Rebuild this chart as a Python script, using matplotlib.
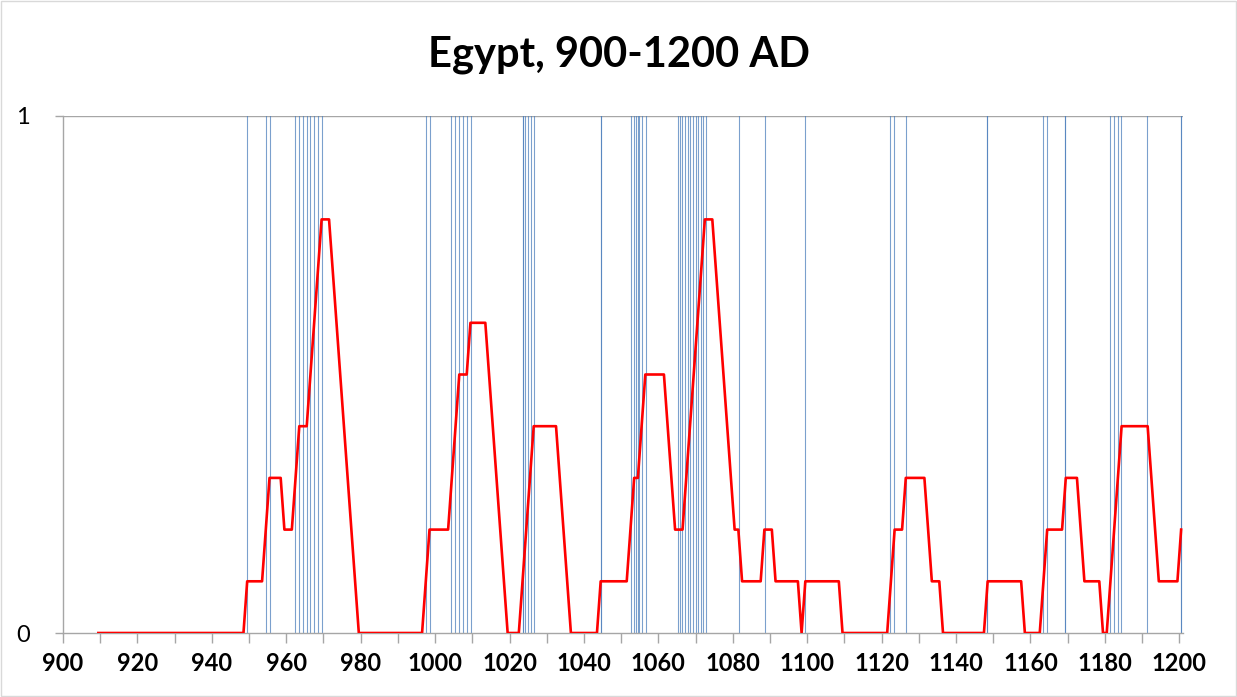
import numpy as np
import matplotlib
matplotlib.use('Agg')
import matplotlib.pyplot as plt
from matplotlib.patches import Rectangle

# Rolling share of years with events (red line)
red_years = [910, 949, 950, 954, 956, 959, 960, 962, 964, 966, 970, 972, 980,
             997, 999, 1004, 1007, 1009, 1010, 1014, 1020, 1023, 1027, 1033, 1037,
             1044, 1045, 1052, 1054, 1055, 1057, 1062, 1065, 1067, 1073, 1075,
             1081, 1082, 1083, 1088, 1089, 1091, 1092, 1098, 1099, 1100, 1109, 1110,
             1122, 1124, 1126, 1127, 1132, 1134, 1136, 1137, 1148, 1149, 1158, 1159,
             1163, 1165, 1169, 1170, 1173, 1175, 1179, 1180, 1181, 1185, 1192, 1195,
             1200, 1201]
red_values = [0, 0, 0.1, 0.1, 0.3, 0.3, 0.2, 0.2, 0.4, 0.4, 0.8, 0.8, 0,
              0, 0.2, 0.2, 0.5, 0.5, 0.6, 0.6, 0, 0, 0.4, 0.4, 0,
              0, 0.1, 0.1, 0.3, 0.3, 0.5, 0.5, 0.2, 0.2, 0.8, 0.8,
              0.2, 0.2, 0.1, 0.1, 0.2, 0.2, 0.1, 0.1, 0, 0.1, 0.1, 0,
              0, 0.2, 0.2, 0.3, 0.3, 0.1, 0.1, 0, 0, 0.1, 0.1, 0,
              0, 0.2, 0.2, 0.3, 0.3, 0.1, 0.1, 0, 0, 0.4, 0.4, 0.1,
              0.1, 0.2]

# Event dates (blue vertical lines); repeated dates show as darker lines
event_years = [950.0, 955.0, 956.0, 962.9, 963.9, 964.9, 966.0, 967.0, 968.0, 969.0, 970.0,
               998.0, 999.0, 1004.9, 1005.9, 1006.9, 1008.0, 1009.1, 1010.1,
               1024.0, 1024.1, 1024.7, 1025.4, 1026.2, 1027.1,
               1045.0, 1045.0,
               1053.2, 1053.9, 1054.4, 1054.9, 1055.4, 1056.1, 1057.1,
               1065.9, 1066.2, 1066.9, 1067.6, 1068.4, 1069.1, 1069.8, 1070.5,
               1071.2, 1071.9, 1072.6, 1073.2,
               1082.2, 1089.1, 1100.0,
               1122.8, 1123.8, 1127.0,
               1148.8, 1148.8,
               1163.9, 1164.9, 1169.9, 1169.9,
               1181.9, 1182.9, 1183.9, 1184.9, 1191.9, 1200.9, 1200.9]

x_ticks = list(range(900, 1201, 10))
x_labels = [str(t) if (t - 900) % 20 == 0 else '' for t in x_ticks]

fig = plt.figure(figsize=(12.37, 6.97), dpi=100)
ax = fig.add_axes([63 / 1237, 1 - 633 / 697, 1120 / 1237, 517 / 697])

# categories are centred half a year before the tick of the same number
shift = 0.5
for e in event_years:
    ax.axvline(e - shift, color='#4f81bd', lw=0.8, alpha=0.75, zorder=1)
ax.plot(np.array(red_years) - shift, red_values, color='#ff0000', lw=1.9, zorder=3)

ax.set_xlim(900, 1201)
ax.set_ylim(0, 1)
ax.axhline(1, color='#a6a6a6', lw=1.0, zorder=0)

ax.set_xticks(x_ticks)
ax.set_xticklabels(x_labels, fontsize=17, fontweight='bold', family='Lato')
ax.set_yticks([0, 1])
ax.set_yticklabels(['0', '1'], fontsize=17, family='Lato')
ax.tick_params(axis='x', length=7, width=1, color='#a6a6a6', pad=7)
ax.tick_params(axis='y', length=6, width=1, color='#a6a6a6', pad=18)

for side in ['top', 'right']:
    ax.spines[side].set_visible(False)
for side in ['left', 'bottom']:
    ax.spines[side].set_color('#a6a6a6')
    ax.spines[side].set_linewidth(1.0)

fig.text(0.5, 1 - 55 / 697, 'Egypt, 900-1200 AD', ha='center', va='center',
         fontsize=30, fontweight='bold', family='Lato')

# light chart border
fig.add_artist(Rectangle((0.001, 0.001), 0.998, 0.997, transform=fig.transFigure,
                         fill=False, edgecolor='#d9d9d9', lw=1.0))

fig.savefig('out.png', dpi=100)
